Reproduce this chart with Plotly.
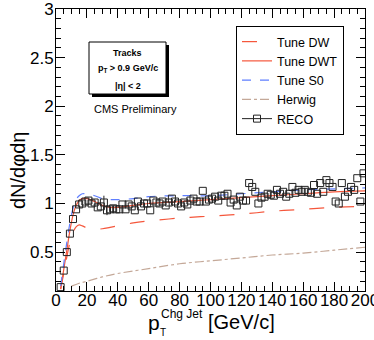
import plotly.graph_objects as go

# RECO points, 2 GeV bins in charged-jet pT
reco_x = list(range(3, 200, 2))
reco_y = [0.14, 0.31, 0.50, 0.69, 0.84, 0.94, 0.99, 1.00, 1.02, 1.03,
          1.00, 1.01, 0.96, 0.97, 1.01, 0.93, 0.94, 0.95, 0.94, 0.94,
          0.99, 0.94, 0.99, 0.97, 0.93, 1.02, 0.97, 1.00, 1.00, 0.93,
          1.03, 1.01, 1.00, 1.02, 0.98, 1.01, 1.05, 1.02, 1.00, 0.97,
          1.01, 0.99, 1.03, 1.05, 1.02, 1.02, 1.13, 1.02, 1.04, 1.05,
          1.07, 1.03, 1.08, 1.08, 1.10, 1.01, 1.04, 0.98, 1.07, 1.03,
          1.03, 1.21, 1.17, 1.12, 1.00, 1.06, 1.07, 1.10, 1.09, 1.08,
          1.14, 1.10, 1.12, 1.07, 1.10, 1.17, 1.11, 1.14, 1.12, 1.14,
          1.12, 1.11, 1.19, 1.10, 1.21, 1.12, 1.24, 1.21, 1.17, 1.02,
          1.00, 1.21, 1.07, 1.12, 1.17, 1.14, 1.26, 1.02, 1.31]
reco_err = [0] * 99
reco_err[14] = 0.07
reco_err[15] = 0.05

# MC predictions
curve_x = [3, 5, 7, 9, 11, 13, 15, 17, 20, 25, 30, 35, 40, 50, 60, 80, 100, 120, 140, 160, 180, 200]
tune_dw = [0.12, 0.28, 0.45, 0.60, 0.70, 0.76, 0.78, 0.77, 0.75, 0.735, 0.74, 0.755, 0.77,
           0.80, 0.82, 0.85, 0.87, 0.89, 0.92, 0.94, 0.96, 0.97]
tune_dwt = [0.12, 0.32, 0.52, 0.72, 0.88, 0.98, 1.03, 1.05, 1.05, 1.02, 0.98, 0.96, 0.96,
            0.98, 1.00, 1.02, 1.04, 1.06, 1.08, 1.10, 1.12, 1.13]
tune_s0 = [0.15, 0.38, 0.60, 0.80, 0.95, 1.04, 1.08, 1.10, 1.10, 1.08, 1.05, 1.04, 1.04,
           1.05, 1.07, 1.08, 1.08, 1.10, 1.12, 1.14, 1.15, 1.16]
herwig_x = [10, 15, 20, 30, 40, 60, 80, 100, 120, 140, 160, 180, 200]
herwig = [0.15, 0.18, 0.20, 0.245, 0.28, 0.33, 0.38, 0.41, 0.44, 0.47, 0.49, 0.52, 0.55]

y_ticks = [0.5, 1, 1.5, 2, 2.5, 3]
y_tick_text = ["0.5", "1", "1.5", "2", "2.5", "3"]
x_ticks = [0, 20, 40, 60, 80, 100, 120, 140, 160, 180, 200]

RED = "#f5573c"
BLUE = "#5f7fff"
TAN = "#c4a898"
FONT = "Liberation Sans, Arial, sans-serif"

# plot area in pixels (for placing the boxes and texts)
L, R, T, B = 56, 365, 9, 291
def px(x):
    return (x - L) / (R - L)
def py(y):
    return (B - y) / (B - T)

fig = go.Figure()
fig.add_trace(go.Scatter(x=curve_x, y=tune_dw, mode="lines", name="Tune DW",
                         line=dict(color=RED, width=1.2, dash="longdash", shape="spline")))
fig.add_trace(go.Scatter(x=curve_x, y=tune_dwt, mode="lines", name="Tune DWT",
                         line=dict(color=RED, width=1.2, shape="spline")))
fig.add_trace(go.Scatter(x=curve_x, y=tune_s0, mode="lines", name="Tune S0",
                         line=dict(color=BLUE, width=1.2, dash="dash", shape="spline")))
fig.add_trace(go.Scatter(x=herwig_x, y=herwig, mode="lines", name="Herwig",
                         line=dict(color=TAN, width=1.2, dash="dashdot", shape="spline")))
fig.add_trace(go.Scatter(x=reco_x, y=reco_y, mode="markers", name="RECO", showlegend=False,
                         marker=dict(symbol="square-open", size=7, color="#222", line=dict(width=1)),
                         error_y=dict(type="data", array=reco_err, color="#222", thickness=1, width=0)))
# legend entry for RECO (line + marker)
fig.add_trace(go.Scatter(x=[None], y=[None], mode="lines+markers", name="RECO",
                         line=dict(color="#222", width=1),
                         marker=dict(symbol="square-open", size=7, color="#222")))

shapes = [
    # text box shadow + box
    dict(type="rect", xref="paper", yref="paper", x0=px(92), x1=px(169), y0=py(97), y1=py(45),
         fillcolor="black", line=dict(width=0), layer="above"),
    dict(type="rect", xref="paper", yref="paper", x0=px(89), x1=px(166), y0=py(94), y1=py(42),
         fillcolor="white", line=dict(color="black", width=1), layer="above"),
    # legend shadow
    dict(type="rect", xref="paper", yref="paper", x0=px(239), x1=px(338), y0=py(135), y1=py(29),
         fillcolor="black", line=dict(width=0), layer="above"),
]

annotations = [
    dict(text="<b>Tracks</b>", x=px(127.5), y=py(53), font=dict(size=9)),
    dict(text="<b>p<sub>T</sub> &gt; 0.9 GeV/c</b>", x=px(127.5), y=py(68), font=dict(size=9)),
    dict(text="<b>|η| &lt; 2</b>", x=px(127.5), y=py(86), font=dict(size=9)),
    dict(text="CMS Preliminary", x=px(135), y=py(109), font=dict(size=11)),
    dict(text="dN/dφdη", x=px(18), y=py(171), textangle=-90, font=dict(size=20)),
    dict(text="p", x=px(146), y=py(322), xanchor="left", font=dict(size=21)),
    dict(text="T", x=px(158), y=py(332), xanchor="left", font=dict(size=10)),
    dict(text="Chg Jet", x=px(159), y=py(314), xanchor="left", font=dict(size=12)),
    dict(text="[GeV/c]", x=px(206), y=py(322), xanchor="left", font=dict(size=20)),
]
for a in annotations:
    a.setdefault("xanchor", "center")
    a.update(xref="paper", yref="paper", yanchor="middle", showarrow=False)
    a["font"].update(family=FONT, color="black")

axis_common = dict(showline=True, linecolor="black", linewidth=1, mirror="allticks",
                   ticks="inside", ticklen=9, tickcolor="black", showgrid=False, zeroline=False,
                   ticklabeloverflow="allow", tickangle=0, automargin=False,
                   tickfont=dict(family=FONT, size=17, color="black"))

fig.update_layout(
    width=374, height=340,
    margin=dict(l=L, r=374 - R, t=T, b=340 - B),
    paper_bgcolor="white", plot_bgcolor="white",
    font=dict(family=FONT, color="black"),
    xaxis=dict(range=[0, 200], tickvals=x_ticks, ticklabelstandoff=-6,
               minor=dict(dtick=5, tick0=0, ticks="inside", ticklen=5, tickcolor="black"),
               **axis_common),
    yaxis=dict(range=[0.1, 3], tickvals=y_ticks, ticktext=y_tick_text, ticklabelstandoff=-2,
               minor=dict(dtick=0.1, tick0=0, ticks="inside", ticklen=5, tickcolor="black"),
               **axis_common),
    legend=dict(x=px(236), y=py(26), xanchor="left", yanchor="top",
                bgcolor="white", bordercolor="black", borderwidth=1,
                font=dict(family=FONT, size=12.5, color="black"),
                itemwidth=30, tracegroupgap=0),
    shapes=shapes,
    annotations=annotations,
    showlegend=True,
)

# page body has an 8px default margin; drop it so the chart sits at the window corner
fig.write_html("out.html", config={"displayModeBar": False},
               post_script="document.body.style.margin='0';")
